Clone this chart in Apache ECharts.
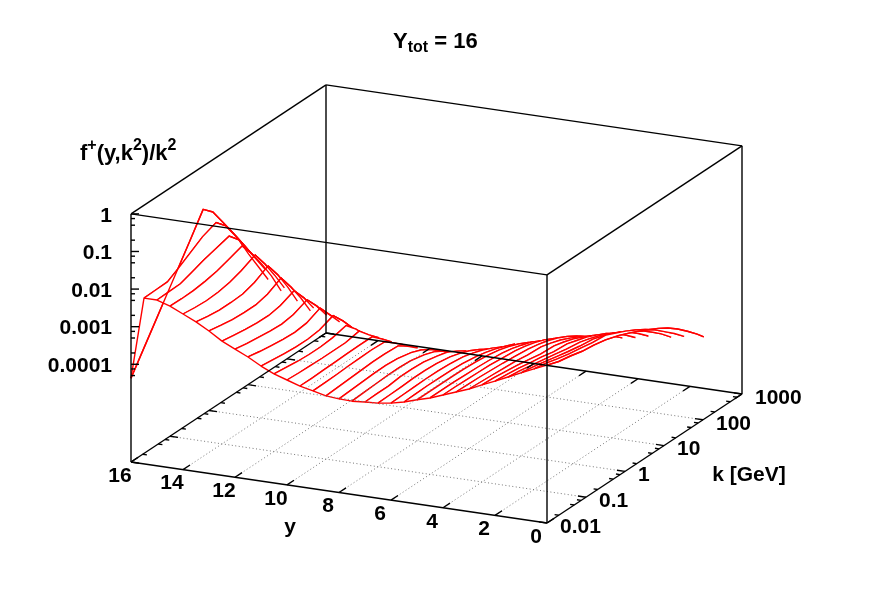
<!DOCTYPE html>
<html>
<head>
<meta charset="utf-8">
<style>
  html, body { margin: 0; padding: 0; background: #fff; }
  #chart { width: 872px; height: 610px; }
</style>
<script src="https://cdn.jsdelivr.net/npm/echarts@6/dist/echarts.min.js"></script>
</head>
<body>
<div id="chart"></div>
<script>
// rapidity of each wire, far one first
const yValues = [16, 15.5, 15, 14.5, 14, 13.5, 13, 12.5, 12, 11.5, 11, 10.5, 10, 9.5, 9, 8.5,
  8, 7.5, 7, 6.5, 6, 5.5, 5, 4.5, 4, 3.5, 3, 2.5, 2, 1.5, 1, 0.5, 0];
// log10(k) sampling along a wire
const logKGrid = [-2, -1.7, -1.4, -1.1, -0.8, -0.5, -0.15, 0.1, 0.35, 0.6, 0.85, 1.1, 1.35, 1.6, 1.85, 2.02];
// log10(f/k^2), one row per entry of yValues
const logFRows = [
  [-4.37, -3.85, -3.33, -2.81, -2.29, -1.77, -1.15, -1.39, -1.83, -2.27, -2.73, -3.20],
  [-2.19, -2.18, -2.17, -1.99, -1.79, -1.59, -1.45, -1.71, -2.15, -2.61, -3.08, -3.54],
  [-2.19, -2.18, -2.17, -2.06, -1.95, -1.86, -1.76, -2.03, -2.58, -3.09, -3.60],
  [-2.30, -2.31, -2.30, -2.26, -2.20, -2.10, -1.97, -2.35, -2.79, -3.28, -3.85],
  [-2.46, -2.50, -2.52, -2.50, -2.44, -2.33, -2.16, -2.57, -3.04, -3.55],
  [-2.62, -2.68, -2.72, -2.72, -2.70, -2.60, -2.40, -2.81, -3.30, -3.85],
  [-2.81, -2.87, -2.92, -2.94, -2.94, -2.86, -2.67, -3.08, -3.54, -4.06],
  [-3.03, -3.08, -3.13, -3.16, -3.17, -3.11, -2.96, -3.32, -3.76],
  [-3.19, -3.25, -3.29, -3.33, -3.35, -3.30, -3.15, -3.49, -3.90],
  [-3.35, -3.41, -3.46, -3.50, -3.52, -3.48, -3.32, -3.67, -4.03],
  [-3.54, -3.58, -3.62, -3.65, -3.65, -3.61, -3.47, -3.78, -4.14],
  [-3.70, -3.74, -3.78, -3.80, -3.80, -3.77, -3.68, -3.95, -4.28],
  [-3.81, -3.83, -3.84, -3.85, -3.85, -3.85, -3.78, -4.05, -4.30],
  [-3.92, -3.92, -3.91, -3.90, -3.89, -3.88, -3.88, -4.11, -4.36],
  [-4.00, -3.99, -3.98, -3.96, -3.95, -3.94, -3.96, -4.17, -4.39],
  [-4.08, -4.06, -4.04, -4.02, -4.00, -4.00, -4.02, -4.20, -4.42],
  [-4.11, -4.09, -4.07, -4.05, -4.04, -4.07, -4.15, -4.25, -4.41, -4.62],
  [-4.12, -4.10, -4.08, -4.06, -4.06, -4.08, -4.16, -4.25, -4.40, -4.60],
  [-4.09, -4.08, -4.08, -4.04, -4.04, -4.06, -4.14, -4.21, -4.35, -4.52],
  [-4.07, -4.06, -4.05, -4.03, -4.03, -4.05, -4.11, -4.19, -4.29, -4.43, -4.59],
  [-4.02, -4.01, -4.00, -3.99, -3.99, -4.01, -4.06, -4.13, -4.22, -4.34, -4.48],
  [-3.94, -3.93, -3.92, -3.92, -3.93, -3.95, -4.00, -4.06, -4.14, -4.24, -4.35],
  [-3.83, -3.83, -3.83, -3.83, -3.84, -3.86, -3.90, -3.95, -4.03, -4.13, -4.26, -4.42],
  [-3.73, -3.73, -3.73, -3.74, -3.75, -3.77, -3.81, -3.86, -3.94, -4.03, -4.16, -4.32],
  [-3.60, -3.60, -3.61, -3.62, -3.63, -3.66, -3.70, -3.75, -3.82, -3.92, -4.05, -4.22, -4.41],
  [-3.47, -3.48, -3.49, -3.51, -3.53, -3.56, -3.60, -3.65, -3.72, -3.82, -3.95, -4.11, -4.30],
  [-3.34, -3.36, -3.38, -3.40, -3.42, -3.47, -3.49, -3.56, -3.65, -3.77, -3.90, -4.07, -4.27],
  [-3.18, -3.20, -3.24, -3.28, -3.33, -3.39, -3.41, -3.48, -3.57, -3.69, -3.82, -3.98, -4.18, -4.40],
  [-3.03, -3.06, -3.10, -3.16, -3.21, -3.28, -3.31, -3.39, -3.47, -3.59, -3.72, -3.89, -4.10, -4.34],
  [-2.87, -2.91, -2.97, -3.03, -3.09, -3.16, -3.21, -3.29, -3.38, -3.50, -3.63, -3.80, -4.01, -4.25],
  [-2.71, -2.76, -2.83, -2.90, -2.97, -3.03, -3.08, -3.17, -3.27, -3.41, -3.55, -3.72, -3.92, -4.14, -4.40],
  [-2.55, -2.61, -2.70, -2.77, -2.82, -2.88, -2.92, -3.04, -3.16, -3.30, -3.46, -3.64, -3.86, -4.08, -4.33],
  [-2.40, -2.51, -2.57, -2.65, -2.69, -2.76, -2.88, -2.99, -3.11, -3.24, -3.38, -3.54, -3.74, -3.97, -4.22, -4.41]
];
// ticks
const yTicks = [16, 14, 12, 10, 8, 6, 4, 2, 0];
const kTicks = [-2, -1, 0, 1, 2, 3];
const kTickLabels = ['0.01', '0.1', '1', '10', '100', '1000'];
const zTicks = [0, -1, -2, -3, -4];
const zTickLabels = ['1', '0.1', '0.01', '0.001', '0.0001'];
const minorMultiples = [2, 5, 7.5];
const zExtraMinor = [-4.125, -4.3];

// view of the box: pixel position of y=0, k=0.01 on the floor and the step per unit of each axis
const originX = 547, originY = 523;
const stepY = [-26, -3.81];
const stepK = [39, -25.8];
const stepZ = 37.6;
const zFloor = -6.6;

function project(y, logK, logF) {
  const t = logK + 2;
  return [
    originX + stepY[0] * y + stepK[0] * t,
    originY + stepY[1] * y + stepK[1] * t - stepZ * (logF - zFloor)
  ];
}
const onFloor = (y, logK) => project(y, logK, zFloor);
const onTop = (y, logK) => project(y, logK, 0);

function segment(a, b, color, width, type) {
  return {
    type: 'line', data: [a, b], showSymbol: false, silent: true, animation: false, z: 5,
    lineStyle: { color: color, width: width, type: type || 'solid', cap: 'butt' }
  };
}
const black = (a, b) => segment(a, b, '#000', 1.4);
const dotted = (a, b) => segment(a, b, '#777', 1, [1, 2.5]);
const redWidth = 1.4;

const series = [];

// surface: painter's order, each strip blanks what lies behind it
function wire(i) {
  return logFRows[i].map((v, j) => project(yValues[i], logKGrid[j], v));
}
series.push({
  type: 'custom',
  coordinateSystem: 'cartesian2d',
  silent: true,
  animation: false,
  clip: false,
  z: 2,
  data: yValues.map((y, i) => [i, 0]),
  renderItem: function (params, api) {
    const i = api.value(0);
    const toPx = pts => pts.map(p => api.coord(p));
    const lineStyle = { stroke: '#f00', lineWidth: redWidth, fill: null };
    const children = [];
    const far = wire(i);
    if (i + 1 < yValues.length) {
      const near = wire(i + 1);
      const n = Math.min(far.length, near.length);
      const strip = far.slice(0, n).concat(near.slice(0, n).reverse());
      children.push({ type: 'polygon', shape: { points: toPx(strip) }, style: { fill: '#fff', stroke: null } });
      children.push({ type: 'polyline', shape: { points: toPx(near) }, style: lineStyle });
    }
    children.push({ type: 'polyline', shape: { points: toPx(far) }, style: lineStyle });
    return { type: 'group', children: children };
  }
});
function redLine(points) {
  series.push({
    type: 'line', silent: true, animation: false, showSymbol: false, z: 3,
    data: points, lineStyle: { color: '#f00', width: redWidth }
  });
}
// front edge of the surface at the lowest k
redLine(yValues.map((y, i) => project(y, logKGrid[0], logFRows[i][0])));
// the far wire and the tails past the ridge stay visible over the strips
redLine(wire(0));
for (let i = 1; i <= 10; i++) redLine(wire(i).slice(6));

// floor grid
yTicks.filter(v => v > 0 && v < 16).forEach(v => series.push(dotted(onFloor(v, -2), onFloor(v, 3))));
kTicks.filter(v => v > -2 && v < 3).forEach(v => series.push(dotted(onFloor(0, v), onFloor(16, v))));

// box
series.push(black(onFloor(16, -2), onFloor(0, -2)), black(onFloor(0, -2), onFloor(0, 3)),
  black(onFloor(0, 3), onFloor(16, 3)), black(onFloor(16, 3), onFloor(16, -2)));
series.push(black(onTop(16, -2), onTop(0, -2)), black(onTop(0, -2), onTop(0, 3)),
  black(onTop(0, 3), onTop(16, 3)), black(onTop(16, 3), onTop(16, -2)));
series.push(black(onFloor(16, -2), onTop(16, -2)), black(onFloor(0, -2), onTop(0, -2)),
  black(onFloor(0, 3), onTop(0, 3)), black(onFloor(16, 3), onTop(16, 3)));

// y ticks on the front and back floor edges
yTicks.forEach(v => {
  series.push(black(onFloor(v, -2), onFloor(v, -1.82)));
  series.push(black(onFloor(v, 3), onFloor(v, 2.82)));
});
// k ticks on the two side floor edges
function kTick(logK, len) {
  series.push(black(onFloor(16, logK), onFloor(16 - len, logK)));
  series.push(black(onFloor(0, logK), onFloor(len, logK)));
}
kTicks.forEach((v, i) => {
  kTick(v, 0.31);
  if (i < kTicks.length - 1) minorMultiples.forEach(m => kTick(v + Math.log10(m), 0.16));
});
// z ticks on the left edge only
function zTick(logF, len) {
  const a = project(16, -2, logF);
  series.push(black(a, [a[0] + len, a[1]]));
}
zTicks.forEach((v, i) => {
  zTick(v, 8);
  if (i > 0 && i <= 4) minorMultiples.forEach(m => zTick(zTicks[i] + Math.log10(m), 4));
});
zExtraMinor.forEach(v => zTick(v, 4));

// tick labels and axis names
const fontFamily = '"Liberation Sans", Arial, sans-serif';
const font = 'bold 21px ' + fontFamily;
const texts = [];
yTicks.forEach(v => {
  const p = onFloor(v, -2);
  texts.push({ at: [p[0] - 11, p[1] + 14], text: String(v), align: 'center' });
});
kTicks.forEach((v, i) => {
  const p = onFloor(0, v);
  texts.push({ at: [p[0] + 13, p[1] + 4], text: kTickLabels[i], align: 'left' });
});
zTicks.forEach((v, i) => {
  const p = project(16, -2, v);
  texts.push({ at: [112, p[1] + 2], text: zTickLabels[i], align: 'right' });
});
texts.push({ at: [290, 527], text: 'y', align: 'center' });
texts.push({ at: [749, 475], text: 'k [GeV]', align: 'center' });

series.push({
  type: 'custom',
  coordinateSystem: 'cartesian2d',
  silent: true,
  animation: false,
  clip: false,
  z: 6,
  data: texts.map((t, i) => [i, 0]),
  renderItem: function (params, api) {
    const t = texts[api.value(0)];
    const p = api.coord(t.at);
    return {
      type: 'text', x: p[0], y: p[1],
      style: { text: t.text, font: font, fill: '#000', align: t.align, verticalAlign: 'middle' }
    };
  }
});

const bigText = { fontSize: 22, fontWeight: 'bold', fontFamily: fontFamily, color: '#000' };
const smallText = { fontSize: 16, fontWeight: 'bold', fontFamily: fontFamily, color: '#000' };
const richText = {
  b: bigText,
  sub: Object.assign({ padding: [12, 0, 0, 0] }, smallText),
  sup: Object.assign({ padding: [0, 0, 16, 0] }, smallText)
};

const chart = echarts.init(document.getElementById('chart'), null, { renderer: 'canvas' });
chart.setOption({
  animation: false,
  backgroundColor: '#fff',
  title: [
    { text: '{b|Y}{sub|tot}{b| = 16}', left: 393, top: 28, padding: 0, textStyle: { rich: richText } },
    { text: '{b|f}{sup|+}{b|(y,k}{sup|2}{b|)/k}{sup|2}', left: 80, top: 138, padding: 0, textStyle: { rich: richText } }
  ],
  grid: { left: 0, right: 0, top: 0, bottom: 0 },
  xAxis: { type: 'value', min: 0, max: 872, show: false },
  yAxis: { type: 'value', min: 0, max: 610, inverse: true, show: false },
  series: series
});
</script>
</body>
</html>
